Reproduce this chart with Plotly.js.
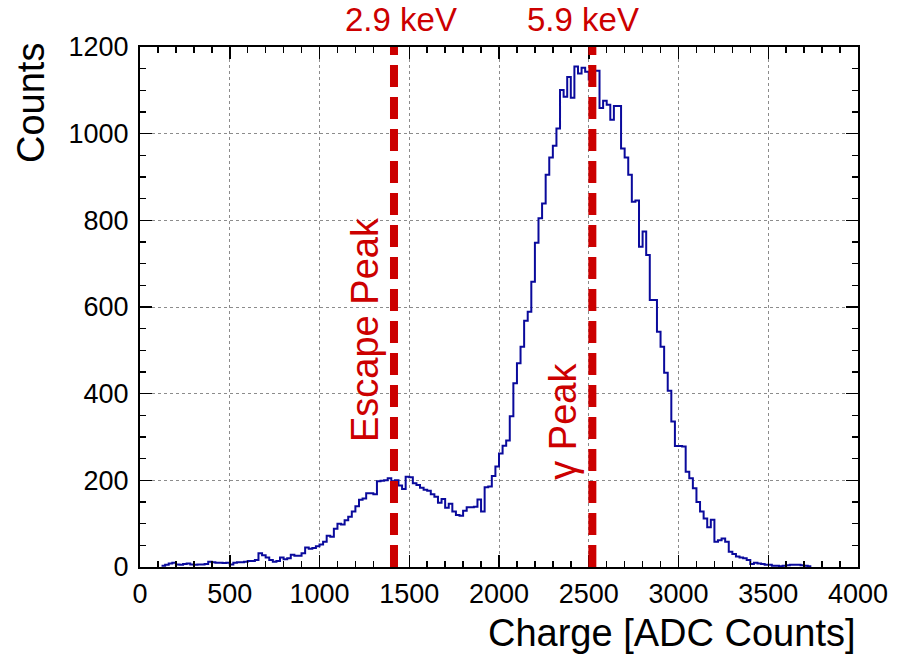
<!DOCTYPE html>
<html>
<head>
<meta charset="utf-8">
<script src="https://cdn.plot.ly/plotly-3.0.1.min.js"></script>
<style>html,body{margin:0;padding:0;background:#fff;}#chart{width:899px;height:668px;}</style>
</head>
<body>
<div id="chart"></div>
<script>
// Histogram: bins of 20 ADC counts starting at 120
const binStart = 120;
const binWidth = 20;
const counts = [
  3,5,8,10,6,5,7,8,6,5,            // 120-300
  6,6,7,12,11,10,10,9,10,6,        // 320-500
  10,11,11,12,14,14,16,32,27,22,   // 520-700
  16,12,14,22,18,20,28,26,26,32,   // 720-900
  45,42,44,48,52,58,72,70,88,100,  // 920-1100
  98,108,116,128,140,155,158,170,170,168, // 1120-1300
  198,199,200,205,198,200,188,180,208,207, // 1320-1500
  193,189,183,178,176,168,162,148,157,137, // 1520-1700
  146,128,120,118,130,138,138,139,156,128, // 1720-1900
  184,186,210,232,262,280,292,348,424,470, // 1920-2100
  508,568,589,658,748,805,839,905,945,972, // 2120-2300
  1012,1101,1085,1131,1083,1155,1139,1152,1143,1125, // 2320-2500
  1145,1145,1059,1076,1067,1032,1064,1064,966,945,   // 2520-2700
  905,843,846,739,774,720,616,616,543,508, // 2720-2900
  448,407,336,279,279,278,220,205,182,150, // 2920-3100
  128,112,92,109,58,62,66,58,35,30,        // 3120-3300
  24,22,20,16,7,10,8,7,5,5,                // 3320-3500
  3,3,2,3,4,5,5,5,4,3,                     // 3520-3700
  2                                        // 3720
];

// Reference lines and labels
const peakLineX = [1415, 2520];
const energyLabels = ['2.9 keV', '5.9 keV'];
const energyLabelX = [1453, 2469];
const peakNames = ['Escape Peak', 'γ Peak'];
const peakNameX = [1253, 2355];
const peakNameY = [549, 337];

const xTitle = 'Charge [ADC Counts]';
const yTitle = 'Counts';

// Build step outline from bin edges
const edges = counts.map((_, i) => binStart + i * binWidth);
edges.push(binStart + counts.length * binWidth);
const stepY = counts.slice();
stepY.push(counts[counts.length - 1]);

const FONT = 'Liberation Sans, Arial, Helvetica, sans-serif';
const RED = '#cc0000';

const trace = {
  type: 'scatter',
  mode: 'lines',
  x: edges,
  y: stepY,
  line: {shape: 'hv', color: '#0a0a9c', width: 2},
  hoverinfo: 'x+y',
  showlegend: false
};

const shapes = peakLineX.map(xv => ({
  type: 'line', xref: 'x', yref: 'paper',
  x0: xv, x1: xv, y0: 0, y1: 1,
  line: {color: RED, width: 8, dash: '22px,10px'}
}));

const annotations = [];
energyLabels.forEach((t, i) => annotations.push({
  text: t, xref: 'x', yref: 'paper', x: energyLabelX[i], y: 1.052,
  xanchor: 'center', yanchor: 'middle', showarrow: false,
  font: {family: FONT, size: 33, color: RED}
}));
peakNames.forEach((t, i) => annotations.push({
  text: t, xref: 'x', yref: 'y', x: peakNameX[i], y: peakNameY[i],
  xanchor: 'center', yanchor: 'middle', showarrow: false, textangle: -90,
  font: {family: FONT, size: 38, color: RED}
}));
annotations.push({
  text: xTitle, xref: 'paper', yref: 'paper', x: 1, y: -0.127,
  xanchor: 'right', yanchor: 'middle', showarrow: false,
  font: {family: FONT, size: 38, color: '#000'}
});
annotations.push({
  text: yTitle, xref: 'paper', yref: 'paper', x: -0.152, y: 0.892,
  xanchor: 'center', yanchor: 'middle', showarrow: false, textangle: -90,
  font: {family: FONT, size: 38, color: '#000'}
});

const axisCommon = {
  ticks: 'inside', ticklen: 12, tickwidth: 1.5, tickcolor: '#000',
  showline: true, linewidth: 2, linecolor: '#000', mirror: 'allticks',
  showgrid: true, gridcolor: '#8c8c8c', griddash: 'dot', gridwidth: 1,
  zeroline: false,
  tickfont: {family: FONT, size: 27, color: '#000'}
};

const layout = {
  width: 899, height: 668,
  margin: {l: 140, r: 41, t: 47, b: 101},
  paper_bgcolor: '#fff', plot_bgcolor: '#fff',
  font: {family: FONT},
  xaxis: Object.assign({}, axisCommon, {
    range: [0, 4000], tickmode: 'linear', tick0: 0, dtick: 500,
    ticklabelstandoff: 2,
    minor: {dtick: 100, ticks: 'inside', ticklen: 6, tickwidth: 1.5, tickcolor: '#000', showgrid: false}
  }),
  yaxis: Object.assign({}, axisCommon, {
    range: [0, 1200], tickmode: 'linear', tick0: 0, dtick: 200,
    ticklabelstandoff: 4,
    minor: {dtick: 50, ticks: 'inside', ticklen: 6, tickwidth: 1.5, tickcolor: '#000', showgrid: false}
  }),
  shapes: shapes,
  annotations: annotations,
  showlegend: false
};

Plotly.newPlot('chart', [trace], layout, {staticPlot: true, displayModeBar: false});
</script>
</body>
</html>
